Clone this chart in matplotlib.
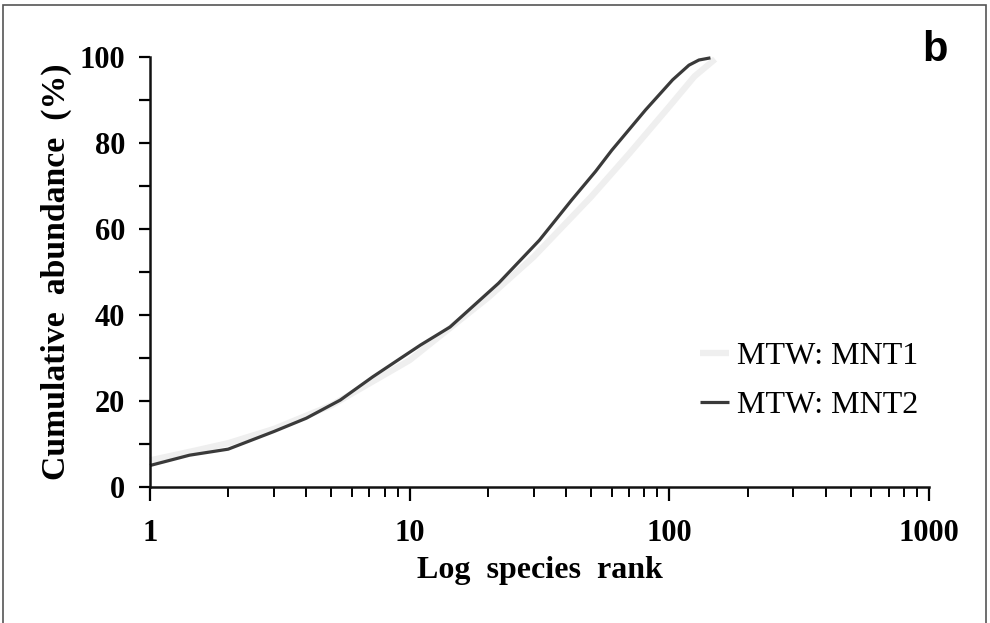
import numpy as np
import matplotlib
matplotlib.use("Agg")
import matplotlib.pyplot as plt
from matplotlib.patches import Rectangle
from matplotlib.ticker import LogLocator, FixedLocator, NullFormatter

# k-dominance curves
rank_mnt1 = [1, 1.5, 2, 3, 5, 10, 20, 30, 50, 70, 100, 125, 150]
cum_mnt1 = [6.2, 8.5, 10.2, 13.5, 19, 29.5, 44, 53.5, 67.5, 77.5, 88.5, 95.5, 99.5]

rank_mnt2 = [1, 1.42, 2, 3, 4, 5.4, 7.2, 9, 11, 14.3, 22, 31.6, 42, 52, 60, 81, 103, 119, 130, 144]
cum_mnt2 = [5.0, 7.4, 8.8, 12.9, 16.0, 20.2, 25.6, 29.5, 33, 37.2, 47.4, 57.4, 66.7, 73.4,
            78.3, 87.7, 94.7, 98.1, 99.3, 99.8]

labels = ["MTW: MNT1", "MTW: MNT2"]
xticks = [1, 10, 100, 1000]
yticks = [0, 20, 40, 60, 80, 100]

serif = "Liberation Serif"

fig = plt.figure(figsize=(9.9, 6.23), dpi=100)
ax = fig.add_axes([150 / 990, 1 - 487 / 623, 779 / 990, 430 / 623])

ax.plot(rank_mnt1, cum_mnt1, color="#efefef", lw=4.5, label=labels[0], clip_on=False,
        solid_capstyle="butt")
ax.plot(rank_mnt2, cum_mnt2, color="#3a3a3a", lw=2.3, label=labels[1], clip_on=False,
        solid_capstyle="butt")

ax.set_xscale("log")
ax.set_xlim(1, 1000)
ax.set_ylim(0, 100)

ax.xaxis.set_major_locator(FixedLocator(xticks))
ax.xaxis.set_minor_locator(LogLocator(base=10, subs=np.arange(2, 10)))
ax.xaxis.set_minor_formatter(NullFormatter())
ax.set_xticks(xticks)
ax.set_xticklabels([str(t) for t in xticks])
ax.set_yticks(yticks)
ax.set_yticks(np.arange(10, 100, 20), minor=True)

for sp in ["top", "right"]:
    ax.spines[sp].set_visible(False)
for sp in ["left", "bottom"]:
    ax.spines[sp].set_linewidth(1.8)
    ax.spines[sp].set_color("#111111")

ax.tick_params(axis="y", which="both", direction="out", length=8, width=1.6, pad=10)
ax.tick_params(axis="x", which="major", direction="out", length=10, width=1.6, pad=13)
ax.tick_params(axis="x", which="minor", direction="out", length=7, width=1.4)

for lab in ax.get_xticklabels() + ax.get_yticklabels():
    lab.set_fontfamily(serif)
    lab.set_fontweight("bold")
    lab.set_fontsize(22)

ax.set_xlabel("Log  species  rank", fontfamily=serif, fontweight="bold", fontsize=23, labelpad=6)
ax.set_ylabel("Cumulative  abundance  (%)", fontfamily=serif, fontweight="bold", fontsize=24.3,
              labelpad=5)

ax.legend(loc="upper left", bbox_to_anchor=(0.706, 0.337), frameon=False, borderpad=0,
          borderaxespad=0, handlelength=0.9, handletextpad=0.25, labelspacing=0.6,
          prop={"family": serif, "size": 23})

fig.text(935 / 990, 1 - 50 / 623, "b", fontfamily="Liberation Sans", fontweight="bold",
         fontsize=30, ha="center", va="center")

fig.patches.append(Rectangle((3 / 990, -0.02), 983 / 990, 1.02 - 5 / 623,
                             transform=fig.transFigure, fill=False, ec="#555555", lw=1.2))

fig.savefig("out.png", dpi=100, facecolor="white")
